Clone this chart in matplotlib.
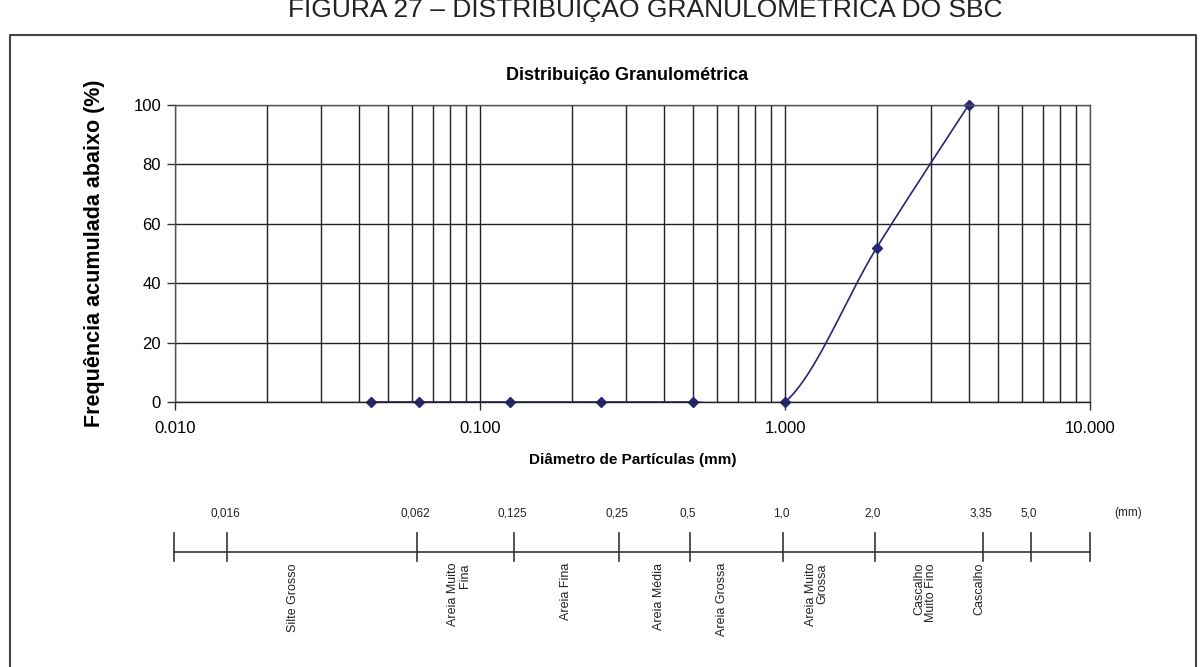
import numpy as np
import matplotlib.pyplot as plt
from matplotlib.ticker import FuncFormatter, LogLocator, NullFormatter

plt.rcParams['font.family'] = ['Liberation Sans', 'DejaVu Sans']

# sieve data
diam = [0.044, 0.063, 0.125, 0.25, 0.5, 1.0, 2.0, 4.0]
passing = [0, 0, 0, 0, 0, 0, 52, 100]

# classification scale below the chart
bound_labels = ['', '0,016', '0,062', '0,125', '0,25', '0,5', '1,0', '2,0', '3,35', '5,0', '']
bound_px = [174, 227, 417, 514, 619, 690, 783, 875, 983, 1031, 1090]
class_names = ['Silte Grosso', 'Areia Muito\nFina', 'Areia Fina', 'Areia Média',
               'Areia Grossa', 'Areia Muito\nGrossa', 'Cascalho\nMuito Fino', 'Cascalho']
class_px = [293, 459, 566, 659, 722, 817, 925, 979]


def smooth(xs, ys, n=40):
    # Excel-like smoothed line (bezier through points), computed in log-x space
    lx = np.log10(xs)
    y = np.array(ys, dtype=float)
    P = np.column_stack([lx, y])
    Pe = np.vstack([P[0], P, P[-1]])
    out = []
    for i in range(len(P) - 1):
        p0, p1 = Pe[i + 1], Pe[i + 2]
        c1 = p0 + (Pe[i + 2] - Pe[i]) / 6
        c2 = p1 - (Pe[i + 3] - Pe[i + 1]) / 6
        t = np.linspace(0, 1, n)[:, None]
        seg = (1 - t) ** 3 * p0 + 3 * (1 - t) ** 2 * t * c1 + 3 * (1 - t) * t ** 2 * c2 + t ** 3 * p1
        out.append(seg)
    out = np.vstack(out)
    return 10 ** out[:, 0], out[:, 1]


W, H = 1202, 667
fig = plt.figure(figsize=(W / 100, H / 100), dpi=100)

# overlay in pixel coords for frame and scale
ov = fig.add_axes([0, 0, 1, 1])
ov.set_xlim(0, W)
ov.set_ylim(H, 0)
ov.axis('off')
ov.plot([10, 10, 1196, 1196], [700, 35, 35, 700], color='#444444', lw=1.5)

ax = fig.add_axes([175 / W, 1 - 402 / H, 915 / W, 297 / H])
ax.set_xscale('log')
ax.set_xlim(0.01, 10)
ax.set_ylim(0, 100)
ax.set_yticks([0, 20, 40, 60, 80, 100])
ax.xaxis.set_major_locator(LogLocator(base=10, numticks=10))
ax.xaxis.set_minor_locator(LogLocator(base=10, subs=np.arange(2, 10), numticks=10))
ax.xaxis.set_major_formatter(FuncFormatter(lambda v, p: f'{v:.3f}'))
ax.xaxis.set_minor_formatter(NullFormatter())
ax.grid(True, which='major', axis='both', color='#222222', lw=1)
ax.grid(True, which='minor', axis='x', color='#222222', lw=1)
ax.tick_params(axis='both', which='major', direction='out', length=6, width=1,
               color='#333333', labelsize=12, pad=4)
ax.tick_params(axis='x', which='minor', length=0)
ax.tick_params(axis='x', which='major', pad=8)
for s in ax.spines.values():
    s.set_color('#555555')
    s.set_linewidth(1)
ax.spines['bottom'].set_color('#222222')
ax.set_axisbelow(True)

sx, sy = smooth(diam, passing)
ax.plot(sx, sy, color='#262678', lw=1.2)
ax.plot(diam, passing, ls='none', marker='D', ms=5, color='#262678', clip_on=False)

ax.set_ylabel('Frequência acumulada abaixo (%)', fontsize=15.5, fontweight='bold')
ax.yaxis.set_label_coords(-0.0765, 0.5)
ax.set_xlabel('Diâmetro de Partículas (mm)', fontsize=11, fontweight='bold')
ax.xaxis.set_label_coords(0.5, -0.172)

fig.text(627 / W, 1 - 75 / H, 'Distribuição Granulométrica', ha='center', va='center',
         fontsize=13, fontweight='bold')
fig.text(645 / W, 1 - 17 / H, 'FIGURA 27 – DISTRIBUIÇÃO GRANULOMÉTRICA DO SBC',
         ha='center', va='baseline', fontsize=19, color='#222222')

# scale
ov.plot([bound_px[0], bound_px[-1]], [552, 552], color='#333333', lw=1.2)
for px, lab in zip(bound_px, bound_labels):
    ov.plot([px, px], [533, 561], color='#333333', lw=1.2)
    if lab:
        ov.text(px - 2, 513, lab, ha='center', va='center', fontsize=8.5, color='#222222')
ov.text(1128, 513, '(mm)', ha='center', va='center', fontsize=8.5, color='#222222')
for px, name in zip(class_px, class_names):
    ov.text(px, 563, name, rotation=90, ha='center', va='top', multialignment='right',
            fontsize=9, color='#222222', linespacing=0.95)

fig.savefig('out.png', dpi=100)
